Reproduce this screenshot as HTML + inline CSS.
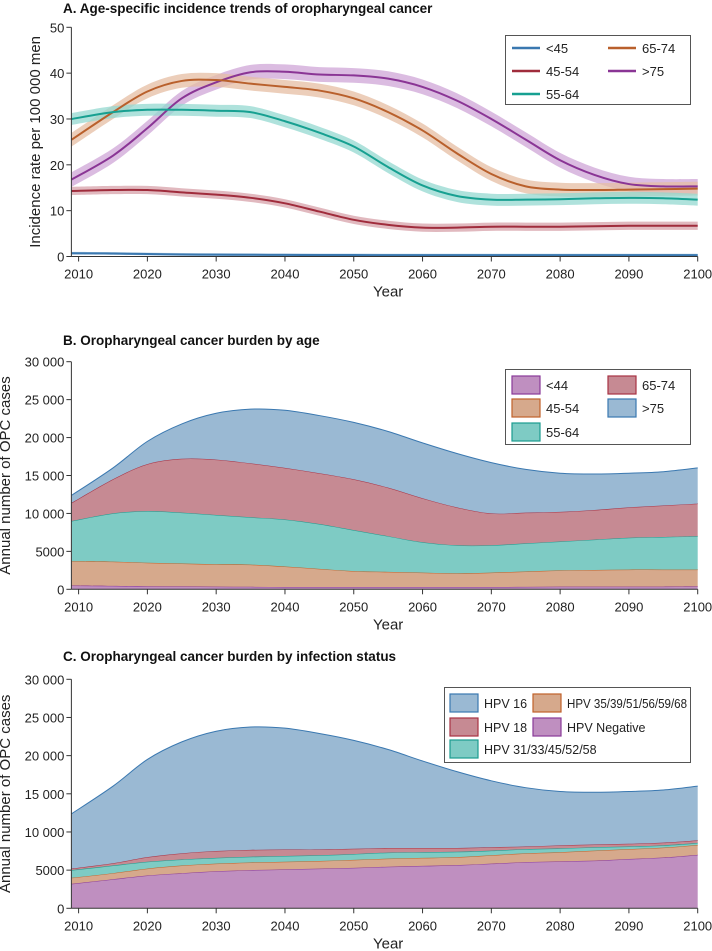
<!DOCTYPE html>
<html><head><meta charset="utf-8">
<style>
html,body{margin:0;padding:0;background:#fff;}
svg{display:block;font-family:"Liberation Sans",sans-serif;}
</style></head>
<body>
<svg id="fig" width="712" height="951" viewBox="0 0 712 951"></svg>
<script>
const years=[2009,2015,2020,2025,2030,2035,2040,2045,2050,2055,2060,2065,2070,2075,2080,2085,2090,2095,2100];
const xTicks=[2010,2020,2030,2040,2050,2060,2070,2080,2090,2100];
// Panel A
const aLabels=['<45','45-54','55-64','65-74','>75'];
const aU45=[0.7,0.65,0.55,0.45,0.4,0.38,0.35,0.33,0.32,0.3,0.3,0.3,0.3,0.3,0.3,0.3,0.3,0.3,0.3];
const a4554=[14.3,14.5,14.5,14,13.5,12.8,11.6,9.8,8,6.9,6.3,6.3,6.5,6.5,6.5,6.6,6.7,6.7,6.7];
const a5564=[30,31.5,32,32,31.8,31.5,29.5,27,24,19.5,15.5,13.2,12.4,12.4,12.5,12.7,12.8,12.7,12.4];
const a6574=[25.5,31.5,36,38.3,38.5,37.7,37,36.2,34.5,31.5,27.5,22.5,18,15.3,14.6,14.5,14.6,14.7,14.8];
const aO75=[16.8,22,28,34.5,38,40.2,40.3,39.7,39.5,38.8,37,34,30,25.5,21,17.8,15.8,15.3,15.3];
const aBandHalf=[0.3,0.9,1.3,1.5,1.6];
const aTicks=[0,10,20,30,40,50];
// Panel B (layer counts)
const bLabels=['<44','45-54','55-64','65-74','>75'];
const bU44=[500,450,400,380,350,330,300,300,300,300,300,300,300,320,350,350,350,360,380];
const b4554=[3200,3200,3100,3020,2950,2920,2700,2400,2100,2000,1900,1800,1900,2030,2150,2200,2250,2240,2220];
const b5564=[5300,6350,6800,6700,6500,6250,6200,5900,5400,4700,4000,3700,3600,3700,3800,4000,4200,4300,4400];
const b6574=[2400,4500,6200,7100,7300,7100,6800,6700,6700,6400,5800,5000,4200,4050,3900,3900,4000,4150,4300];
const bO75=[1000,1500,3000,4600,6100,7150,7600,7600,7500,7400,7300,7100,6700,5700,5100,4750,4500,4450,4700];
const countTicks=[0,5000,10000,15000,20000,25000,30000];
const countTickLabels=['0','5000','10 000','15 000','20 000','25 000','30 000'];
// Panel C (layer counts)
const cLabels=['HPV Negative','HPV 35/39/51/56/59/68','HPV 31/33/45/52/58','HPV 18','HPV 16'];
const cNeg=[3200,3800,4300,4600,4850,5000,5100,5200,5300,5450,5550,5650,5850,6050,6150,6250,6450,6650,7000];
const c35=[800,800,900,1000,1000,1000,1000,1000,1050,1050,1050,1050,1100,1150,1200,1300,1300,1300,1300];
const c31=[1000,1000,900,800,750,750,750,750,750,800,750,700,600,550,500,450,350,300,250];
const c18=[200,300,600,800,900,900,850,750,700,600,550,500,450,350,400,350,350,350,350];
const c16=[7200,10100,12800,14600,15700,16100,15900,15200,14200,12900,11400,10000,8700,7700,7050,6850,6850,6900,7100];

const NS='http://www.w3.org/2000/svg';
const svg=document.getElementById('fig');
function mk(tag,attrs,parent,name,text){
  const e=document.createElementNS(NS,tag);
  for(const k in attrs)e.setAttribute(k,attrs[k]);
  
  
  if(text!==undefined)e.textContent=text;
  (parent||svg).appendChild(e);return e;
}
const X0=78.6,X1=697.7;
const xs=y=>X0+(y-2010)*(X1-X0)/90;
const AXL=xs(2008.95);
function curve(pts){
  let d='M'+pts[0][0].toFixed(2)+','+pts[0][1].toFixed(2);
  for(let i=0;i<pts.length-1;i++){
    const p0=pts[Math.max(0,i-1)],p1=pts[i],p2=pts[i+1],p3=pts[Math.min(pts.length-1,i+2)];
    const c1=[p1[0]+(p2[0]-p0[0])/6,p1[1]+(p2[1]-p0[1])/6];
    const c2=[p2[0]-(p3[0]-p1[0])/6,p2[1]-(p3[1]-p1[1])/6];
    d+='C'+c1[0].toFixed(2)+','+c1[1].toFixed(2)+' '+c2[0].toFixed(2)+','+c2[1].toFixed(2)+' '+p2[0].toFixed(2)+','+p2[1].toFixed(2);
  }
  return d;
}
function axes(g,ys,ticks,labels,title,ytitle,ytx,titleY,prefix){
  mk('text',{x:63,y:titleY,'font-size':13.5,'font-weight':'bold',fill:'#111'},g,prefix+'-title',title);
  const yb=ys(ticks[0]),yt=ys(ticks[ticks.length-1]);
  mk('line',{x1:AXL,y1:yb,x2:AXL,y2:yt,stroke:'#333','stroke-width':1},g,prefix+'-y-axis');
  mk('line',{x1:AXL,y1:yb,x2:X1,y2:yb,stroke:'#333','stroke-width':1},g,prefix+'-x-axis');
  ticks.forEach((t,i)=>{
    const y=ys(t);
    mk('line',{x1:AXL-5,y1:y,x2:AXL,y2:y,stroke:'#333'},g,prefix+'-y-tick');
    mk('text',{x:AXL-7,y:y+5,'font-size':13,'text-anchor':'end',fill:'#222'},g,prefix+'-y-tick-label',labels[i]);
  });
  xTicks.forEach(t=>{
    const x=xs(t);
    mk('line',{x1:x,y1:yb,x2:x,y2:yb+5,stroke:'#333'},g,prefix+'-x-tick');
    mk('text',{x:x,y:yb+22,'font-size':13,'text-anchor':'middle',fill:'#222'},g,prefix+'-x-tick-label',String(t));
  });
  mk('text',{x:xs(2055),y:yb+40,'font-size':15,'text-anchor':'middle',fill:'#222'},g,prefix+'-x-axis-title','Year');
  const cy=(yb+yt)/2;
  mk('text',{x:ytx,y:cy,'font-size':15,'text-anchor':'middle',fill:'#222',transform:'rotate(-90 '+ytx+' '+cy+')'},g,prefix+'-y-axis-title',ytitle);
}
// ---------- Panel A
const gA=mk('g',{},svg,'panel-a');
const yA=v=>256.5+(v)*(27.3-256.5)/50;
const aSeries=[aU45,a4554,a5564,a6574,aO75];
const aCol=['#3a78b0','#a02c3c','#17a091','#b9602c','#8a3595'];
const aBand=['#9fc0dc','#d7a2aa','#94d8d0','#e6bea3','#cfa5d7'];
const aDraw=[4,3,2,1,0];
aDraw.forEach(k=>{
  const s=aSeries[k],h=aBandHalf[k];
  const up=years.map((yr,i)=>[xs(yr),yA(s[i]+h)]);
  const dn=years.map((yr,i)=>[xs(yr),yA(Math.max(0,s[i]-h))]).reverse();
  const d=curve(up)+'L'+dn[0][0]+','+dn[0][1]+curve(dn).replace(/^M[^C]*/,'')+'Z';
  mk('path',{d:d,fill:aBand[k],opacity:0.75},gA,'band-age-'+aLabels[k].replace(/[<>]/g,''));
});
aDraw.forEach(k=>{
  const s=aSeries[k];
  mk('path',{d:curve(years.map((yr,i)=>[xs(yr),yA(s[i])])),fill:'none',stroke:aCol[k],'stroke-width':2},gA,'line-age-'+aLabels[k].replace(/[<>]/g,''));
});
axes(gA,yA,aTicks,aTicks.map(String),'A. Age-specific incidence trends of oropharyngeal cancer','Incidence rate per 100 000 men',40,13,'panel-a');
const lgA=mk('g',{},gA,'legend-a');
mk('rect',{x:505.5,y:35.5,width:185,height:69,fill:'#fff',stroke:'#555'},lgA,'legend-a-box');
[[0,512,48],[1,512,71],[2,512,94],[3,608,48],[4,608,71]].forEach(([k,x,y])=>{
  mk('line',{x1:x,y1:y,x2:x+28,y2:y,stroke:aCol[k],'stroke-width':2.5},lgA,'legend-swatch-'+aLabels[k].replace(/[<>]/g,''));
  mk('text',{x:x+34,y:y+5,'font-size':13,fill:'#222'},lgA,'legend-label-'+aLabels[k].replace(/[<>]/g,''),aLabels[k]);
});
function stacked(g,ys,layers,fills,strokes,names){
  const cum=years.map(()=>0);
  layers.forEach((L,k)=>{
    const lo=years.map((yr,i)=>[xs(yr),ys(cum[i])]);
    years.forEach((yr,i)=>cum[i]+=L[i]);
    const hi=years.map((yr,i)=>[xs(yr),ys(cum[i])]);
    const rl=lo.slice().reverse();
    const d=curve(hi)+'L'+rl[0][0]+','+rl[0][1]+curve(rl).replace(/^M[^C]*/,'')+'Z';
    mk('path',{d:d,fill:fills[k],stroke:'none'},g,'area-'+names[k]);
    mk('path',{d:curve(hi),fill:'none',stroke:strokes[k],'stroke-width':1},g,'area-edge-'+names[k]);
  });
}
const F={blue:'#9ab9d3',red:'#c68a93',teal:'#7ecbc4',orange:'#d6a98c',purple:'#bf8fc0'};
const S={blue:'#3a78b0',red:'#a83244',teal:'#1a9c8f',orange:'#c0622a',purple:'#8a3a99'};
// ---------- Panel B
const gB=mk('g',{},svg,'panel-b');
const yB=v=>589.3+v*(361.7-589.3)/30000;
stacked(gB,yB,[bU44,b4554,b5564,b6574,bO75],[F.purple,F.orange,F.teal,F.red,F.blue],[S.purple,S.orange,S.teal,S.red,S.blue],['age-u44','age-45-54','age-55-64','age-65-74','age-o75']);
axes(gB,yB,countTicks,countTickLabels,'B. Oropharyngeal cancer burden by age','Annual number of OPC cases',10,345,'panel-b');
const lgB=mk('g',{},gB,'legend-b');
mk('rect',{x:505.5,y:369.5,width:185,height:75,fill:'#fff',stroke:'#555'},lgB,'legend-b-box');
[[0,F.purple,S.purple,512,376],[1,F.orange,S.orange,512,399],[2,F.teal,S.teal,512,423],[3,F.red,S.red,608,376],[4,F.blue,S.blue,608,399]].forEach(([k,f,s,x,y])=>{
  mk('rect',{x:x,y:y,width:28,height:18,fill:f,stroke:s,'stroke-width':1.2},lgB,'legend-swatch-'+bLabels[k].replace(/[<>]/g,''));
  mk('text',{x:x+34,y:y+14,'font-size':13,fill:'#222'},lgB,'legend-label-'+bLabels[k].replace(/[<>]/g,''),bLabels[k]);
});
// ---------- Panel C
const gC=mk('g',{},svg,'panel-c');
const yC=v=>908.3+v*(679.3-908.3)/30000;
stacked(gC,yC,[cNeg,c35,c31,c18,c16],[F.purple,F.orange,F.teal,F.red,F.blue],[S.purple,S.orange,S.teal,S.red,S.blue],['hpv-negative','hpv-35-group','hpv-31-group','hpv-18','hpv-16']);
axes(gC,yC,countTicks,countTickLabels,'C. Oropharyngeal cancer burden by infection status','Annual number of OPC cases',10,661,'panel-c');
const lgC=mk('g',{},gC,'legend-c');
mk('rect',{x:444.5,y:687.5,width:246,height:75,fill:'#fff',stroke:'#555'},lgC,'legend-c-box');
[[4,F.blue,S.blue,450,694],[3,F.red,S.red,450,718],[2,F.teal,S.teal,450,740],[1,F.orange,S.orange,533,694],[0,F.purple,S.purple,533,718]].forEach(([k,f,s,x,y])=>{
  mk('rect',{x:x,y:y,width:28,height:18,fill:f,stroke:s,'stroke-width':1.2},lgC,'legend-swatch-'+cLabels[k].replace(/[^A-Za-z0-9]+/g,'-'));
  const t=mk('text',{x:x+34,y:y+14,'font-size':12.5,fill:'#222'},lgC,'legend-label-'+cLabels[k].replace(/[^A-Za-z0-9]+/g,'-'),cLabels[k]);
  if(k===1){t.setAttribute('textLength','120');t.setAttribute('lengthAdjust','spacingAndGlyphs');}
});
</script>
</body></html>
